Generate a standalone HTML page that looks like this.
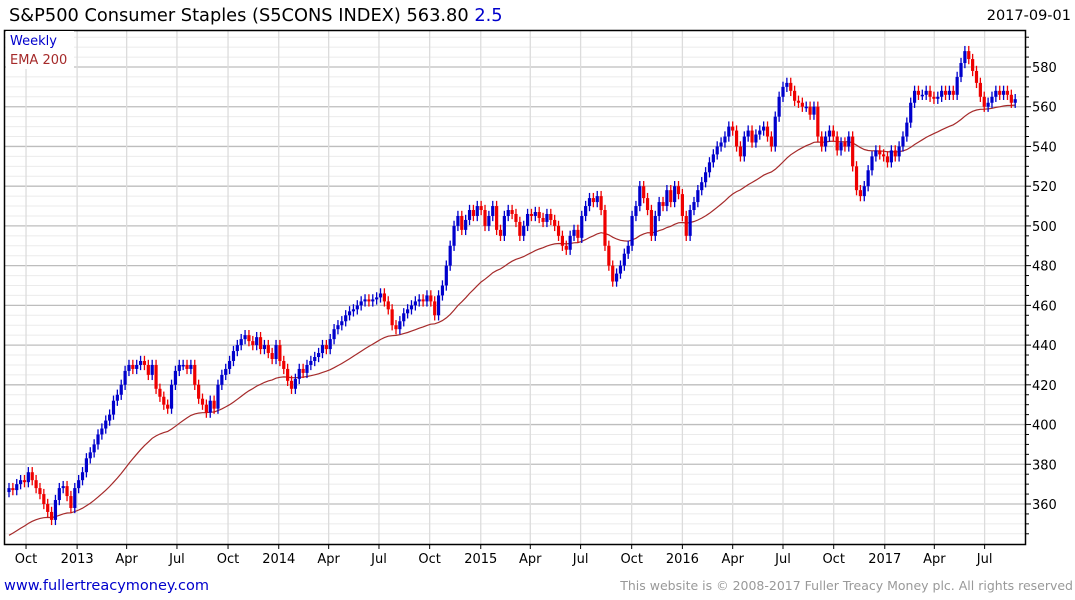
<!DOCTYPE html>
<html><head><meta charset="utf-8">
<style>
html,body{margin:0;padding:0;background:#fff;width:1075px;height:600px;overflow:hidden;font-family:"DejaVu Sans","Liberation Sans",sans-serif}
</style></head><body>
<svg id="chart" width="1075" height="600" xmlns="http://www.w3.org/2000/svg" style="display:block;font-family:'DejaVu Sans','Liberation Sans',sans-serif">
<text x="9" y="21" font-size="17.8" fill="#000">S&amp;P500 Consumer Staples (S5CONS INDEX) 563.80 <tspan fill="#0000cc">2.5</tspan></text>
<text x="1071" y="20" font-size="14.5" fill="#000" text-anchor="end">2017-09-01</text>
<g id="grid"></g>
<g id="ema"></g>
<g id="candles"></g>
<rect x="4.5" y="30.5" width="1021" height="514" fill="none" stroke="#000" stroke-width="1.5"/>
<g id="axes"></g>
<rect x="6" y="31" width="68" height="38" fill="#fff"/>
<text x="10" y="45" font-size="13" fill="#0000cc">Weekly</text>
<text x="10" y="64" font-size="13" fill="#a52a2a">EMA 200</text>
<text x="4" y="590" font-size="14.5" fill="#0000cc">www.fullertreacymoney.com</text>
<text x="1073" y="590" font-size="12.5" fill="#999" text-anchor="end">This website is © 2008-2017 Fuller Treacy Money plc. All rights reserved</text>
</svg>
<script>
const closes=[368,367,370,372,371,376,372,368,365,360,356,352,362,368,369,364,358,368,372,376,383,386,390,395,398,402,405,412,415,420,427,430,428,430,432,430,425,430,418,414,410,408,420,427,430,430,428,430,420,413,410,406,412,408,420,425,428,432,437,440,443,445,442,440,444,438,440,436,433,440,432,428,422,418,423,428,426,430,432,434,436,440,438,443,448,450,452,455,457,458,460,462,463,462,463,464,466,462,458,450,448,452,456,458,460,462,463,462,465,462,455,465,470,480,490,500,505,498,503,508,505,510,508,500,505,510,498,495,505,508,506,502,495,500,506,505,507,504,502,506,503,500,495,490,488,495,498,494,505,510,514,512,515,508,490,480,472,476,480,486,490,505,510,520,514,508,495,505,512,510,518,512,520,516,505,495,508,512,518,522,527,532,536,540,542,545,550,548,540,535,545,548,542,546,548,550,545,540,555,565,570,572,568,563,562,560,560,556,560,545,540,545,548,545,538,542,540,545,530,518,515,520,528,535,538,536,535,532,538,535,540,545,552,562,568,566,566,568,565,564,565,568,566,568,566,575,582,588,584,578,572,565,560,562,565,568,566,568,566,562,563.8];
const firstOpen=366;
const emaSeed=343;
const yTicks=[360,380,400,420,440,460,480,500,520,540,560,580];
const xTickLabels=["Oct","2013","Apr","Jul","Oct","2014","Apr","Jul","Oct","2015","Apr","Jul","Oct","2016","Apr","Jul","Oct","2017","Apr","Jul"];
const xTickWeeks=[4.4,17.6,30.4,43.4,56.6,69.7,82.6,95.6,108.7,121.9,134.7,147.7,160.9,174.0,187.0,200.0,213.1,226.3,239.1,252.1];
const NS="http://www.w3.org/2000/svg";
const X=i=>9+3.87*i;
const Y=v=>504-(v-360)*(437/220);
function mk(tag,attrs,parent){const e=document.createElementNS(NS,tag);for(const k in attrs)e.setAttribute(k,attrs[k]);parent.appendChild(e);return e;}
const grid=document.getElementById('grid'),axes=document.getElementById('axes');
for(let v=345;v<=595;v+=5){const y=Y(v);if(y<31||y>544)continue;const major=v%20===0;
 const l=mk('line',{x1:5,x2:1025,y1:y,y2:y,stroke:major?'#bdbdbd':'#ebebeb','stroke-width':major?1.3:1},grid);
 
 
 const t=mk('line',{x1:1025,x2:major?1031:1029,y1:y,y2:y,stroke:'#000','stroke-width':1},axes);
 
 
}
yTicks.forEach(v=>{const t=mk('text',{x:1032,y:Y(v)+5,'font-size':13,fill:'#000'},axes);t.textContent=v;
 
 });
xTickWeeks.forEach((w,k)=>{const x=X(w);
 const l=mk('line',{x1:x,x2:x,y1:31,y2:544,stroke:'#dcdcdc','stroke-width':1.3},grid);
 
 
 const tk=mk('line',{x1:x,x2:x,y1:544,y2:549,stroke:'#000'},axes);
 
 
 const t=mk('text',{x:x,y:563,'font-size':13,fill:'#000','text-anchor':'middle'},axes);t.textContent=xTickLabels[k];
 
 });
const alpha=2/41;let e=emaSeed;let pts=[];
closes.forEach((c,i)=>{e=e+alpha*(c-e);pts.push(X(i).toFixed(1)+','+Y(e).toFixed(1));});
const pl=mk('polyline',{points:pts.join(' '),fill:'none',stroke:'#a52a2a','stroke-width':1.2},document.getElementById('ema'));


const cg=document.getElementById('candles');
closes.forEach((c,i)=>{const o=i?closes[i-1]:firstOpen;const up=c>=o;const col=up?'#0000cc':'#ee0000';
 const hi=Math.max(o,c)+2.6,lo=Math.min(o,c)-2.6;const x=X(i);
 const w=mk('line',{x1:x,x2:x,y1:Y(hi),y2:Y(lo),stroke:col,'stroke-width':1.3},cg);
 
 
 const top=Y(Math.max(o,c)),h=Math.max(1.5,Y(Math.min(o,c))-top);
 const r=mk('rect',{x:x-1.6,y:top,width:3.2,height:h,fill:col},cg);
 
 });
</script>
</body></html>
